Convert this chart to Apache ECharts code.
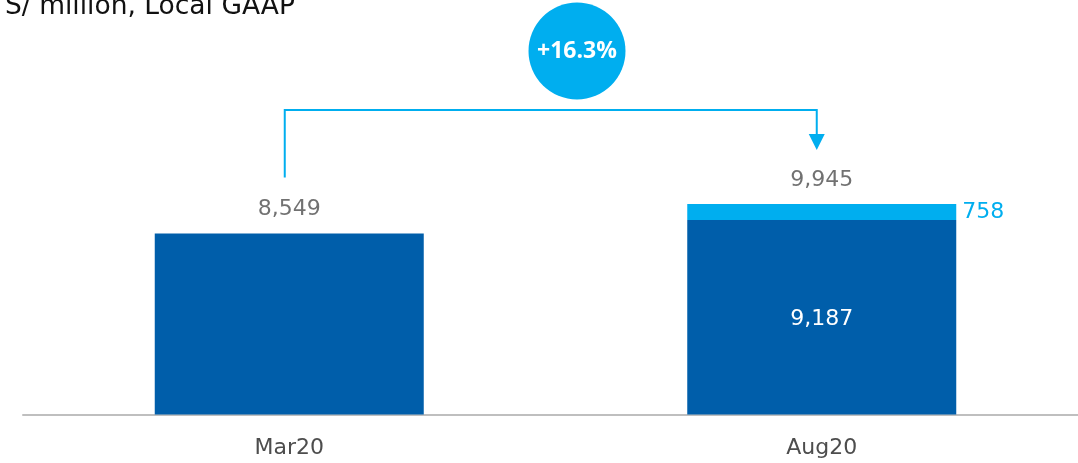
<!DOCTYPE html>
<html>
<head>
<meta charset="utf-8">
<style>
  html, body { margin: 0; padding: 0; background: #ffffff; }
  #chart { width: 1078px; height: 463px; }
</style>
<script src="https://cdn.jsdelivr.net/npm/echarts@6/dist/echarts.min.js"></script>
</head>
<body>
<div id="chart"></div>
<script>
// Portfolio size, S/ million
const categories = ['Mar20', 'Aug20'];
const baseValues = [8549, 9187];   // dark blue segment
const addedValues = [null, 758];   // light blue segment on top
const totals = [8549, 9945];       // total shown above each column

const DARK = '#005EAA';
const LIGHT = '#00AEEF';
const GREY = '#4d4d4d';
const FONT = '"DejaVu Sans", sans-serif';
const BADGE_FONT = '"Open Sans", sans-serif';

const growth = '+' + ((totals[1] / totals[0] - 1) * 100).toFixed(1) + '%';

const chart = echarts.init(document.getElementById('chart'), null, { renderer: 'canvas' });

const option = {
  animation: false,
  title: {
    text: 'S/ million, Local GAAP',
    left: 5,
    top: -6,
    padding: 0,
    textStyle: { fontFamily: FONT, fontSize: 26.5, fontWeight: 'normal', color: '#111111' }
  },
  grid: {
    left: 23, width: 1065, top: 202.8, bottom: 48.5,
    containLabel: false, outerBoundsMode: 'none'
  },
  xAxis: {
    type: 'category',
    data: categories,
    axisLine: { lineStyle: { color: '#BFBFBF', width: 2 } },
    axisTick: { show: false },
    axisLabel: { color: GREY, fontFamily: FONT, fontSize: 22, margin: 23 }
  },
  yAxis: {
    type: 'value',
    min: 0,
    max: 10000,
    show: false,
    splitLine: { show: false }
  },
  series: [
    {
      name: 'base',
      type: 'bar',
      stack: 'total',
      barWidth: 269,
      itemStyle: { color: DARK },
      data: baseValues.map((v, i) => ({
        value: v,
        label: {
          show: addedValues[i] != null,
          position: 'inside',
          offset: [0, 2],
          color: '#ffffff',
          fontFamily: FONT,
          fontSize: 22,
          formatter: (p) => p.value.toLocaleString('en-US')
        }
      }))
    },
    {
      name: 'added',
      type: 'bar',
      stack: 'total',
      barWidth: 269,
      itemStyle: { color: LIGHT },
      label: {
        show: true,
        position: 'right',
        distance: 6,
        color: LIGHT,
        fontFamily: FONT,
        fontSize: 22,
        formatter: (p) => p.value == null ? '' : p.value.toLocaleString('en-US')
      },
      data: addedValues
    },
    {
      name: 'total',
      type: 'scatter',
      symbolSize: 0,
      silent: true,
      label: {
        show: true,
        position: 'top',
        distance: 13,
        color: GREY,
        fontFamily: FONT,
        fontSize: 22,
        formatter: (p) => p.value.toLocaleString('en-US')
      },
      data: totals
    }
  ]
};

chart.setOption(option);

// Growth bracket: from above the first total to an arrow over the second
function drawBracket() {
  const p0 = chart.convertToPixel({ seriesIndex: 2 }, [0, totals[0]]);
  const p1 = chart.convertToPixel({ seriesIndex: 2 }, [1, totals[1]]);
  const xL = p0[0] - 4.5;
  const xR = p1[0] - 5;
  const yTop = 110;
  const yLeftEnd = p0[1] - 56;
  const yTip = p1[1] - 54;
  const headH = 16, headW = 16;
  chart.setOption({
    graphic: [
      {
        type: 'polyline',
        silent: true,
        shape: { points: [[xL, yLeftEnd], [xL, yTop], [xR, yTop], [xR, yTip - headH + 1]] },
        style: { stroke: LIGHT, lineWidth: 2, fill: null }
      },
      {
        type: 'polygon',
        silent: true,
        shape: { points: [[xR - headW / 2, yTip - headH], [xR + headW / 2, yTip - headH], [xR, yTip]] },
        style: { fill: LIGHT }
      },
      {
        type: 'circle',
        silent: true,
        shape: { cx: 577, cy: 51, r: 48.5 },
        style: { fill: LIGHT }
      },
      {
        type: 'text',
        silent: true,
        x: 577,
        y: 51,
        style: {
          text: growth,
          fill: '#ffffff',
          font: 'bold 23px ' + BADGE_FONT,
          align: 'center',
          verticalAlign: 'middle'
        }
      }
    ]
  });
}
drawBracket();
</script>
</body>
</html>
